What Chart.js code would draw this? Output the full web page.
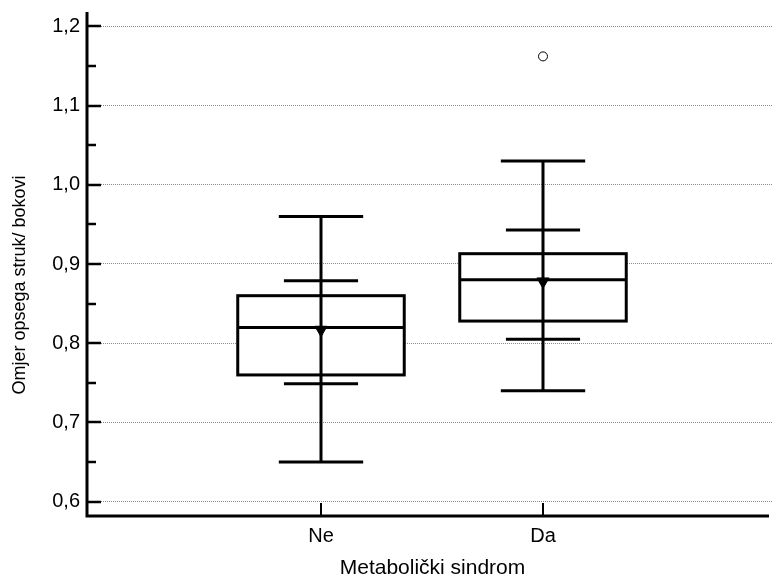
<!DOCTYPE html>
<html>
<head>
<meta charset="utf-8">
<script src="https://cdn.jsdelivr.net/npm/chart.js@4/dist/chart.umd.min.js"></script>
<style>
  html, body { margin: 0; padding: 0; background: #fff; overflow: hidden; }
  #wrap { width: 772px; height: 577px; position: relative; }
</style>
</head>
<body>
<div id="wrap"><canvas id="chart"></canvas></div>
<script>
// categories on the x axis (placed at 1 and 2)
const categories = ['Ne', 'Da'];
const catPositions = [1, 2];

// box plot statistics
const whiskerLow = [0.65, 0.74];
const quartile1 = [0.76, 0.828];
const medians = [0.82, 0.88];
const quartile3 = [0.86, 0.913];
const whiskerHigh = [0.96, 1.03];
// inner bars (confidence interval markers)
const innerLow = [0.749, 0.805];
const innerHigh = [0.879, 0.943];
const means = [0.817, 0.878];

// outliers: [category position, value]
const outlierX = [2];
const outlierY = [1.162];

// y axis ticks
const yTickValues = [0.6, 0.65, 0.7, 0.75, 0.8, 0.85, 0.9, 0.95, 1.0, 1.05, 1.1, 1.15, 1.2];
const yTickLabels = ['0,6', '', '0,7', '', '0,8', '', '0,9', '', '1,0', '', '1,1', '', '1,2'];

const xTitle = 'Metabolički sindrom';
const yTitle = 'Omjer opsega struk/ bokovi';

const FONT = "'Liberation Sans', Arial, sans-serif";
const BOX_HALF = 0.375;
const CAP_HALF = 0.19;
const INNER_HALF = 0.167;

const boxPlugin = {
  id: 'boxPlugin',
  beforeDatasetsDraw(chart) {
    const { ctx, scales: { x, y } } = chart;
    ctx.save();
    ctx.strokeStyle = '#000';
    ctx.lineWidth = 3;
    ctx.lineCap = 'butt';
    const hline = (cx, half, v) => {
      ctx.beginPath();
      ctx.moveTo(x.getPixelForValue(cx - half), y.getPixelForValue(v));
      ctx.lineTo(x.getPixelForValue(cx + half), y.getPixelForValue(v));
      ctx.stroke();
    };
    catPositions.forEach((cx, i) => {
      const l = x.getPixelForValue(cx - BOX_HALF);
      const r = x.getPixelForValue(cx + BOX_HALF);
      const t = y.getPixelForValue(quartile3[i]);
      const b = y.getPixelForValue(quartile1[i]);
      ctx.fillStyle = '#fff';
      ctx.fillRect(l, t, r - l, b - t);
      ctx.strokeRect(l, t, r - l, b - t);
      hline(cx, BOX_HALF, medians[i]);
      // whisker stem
      ctx.beginPath();
      ctx.moveTo(x.getPixelForValue(cx), y.getPixelForValue(whiskerLow[i]));
      ctx.lineTo(x.getPixelForValue(cx), y.getPixelForValue(whiskerHigh[i]));
      ctx.stroke();
      hline(cx, CAP_HALF, whiskerLow[i]);
      hline(cx, CAP_HALF, whiskerHigh[i]);
      hline(cx, INNER_HALF, innerLow[i]);
      hline(cx, INNER_HALF, innerHigh[i]);
    });
    ctx.restore();
  },
  afterDraw(chart) {
    const { ctx, scales: { x, y }, chartArea } = chart;
    ctx.save();
    ctx.strokeStyle = '#000';
    ctx.lineWidth = 3;
    // axis lines
    ctx.beginPath();
    ctx.moveTo(chartArea.left, chartArea.top);
    ctx.lineTo(chartArea.left, chartArea.bottom);
    ctx.lineTo(chartArea.right - 3, chartArea.bottom);
    ctx.stroke();
    // inward ticks
    ctx.lineWidth = 2.5;
    yTickValues.forEach((v, i) => {
      const py = Math.round(y.getPixelForValue(v));
      const len = yTickLabels[i] ? 14 : 9;
      ctx.beginPath();
      ctx.moveTo(chartArea.left, py);
      ctx.lineTo(chartArea.left + len, py);
      ctx.stroke();
    });
    ctx.lineWidth = 2;
    catPositions.forEach(cx => {
      const px = Math.round(x.getPixelForValue(cx));
      ctx.beginPath();
      ctx.moveTo(px, chartArea.bottom);
      ctx.lineTo(px, chartArea.bottom - 13);
      ctx.stroke();
    });
    // axis titles
    ctx.fillStyle = '#000';
    ctx.font = '21px ' + FONT;
    ctx.textAlign = 'center';
    ctx.textBaseline = 'alphabetic';
    ctx.fillText(xTitle, (chartArea.left + chartArea.right) / 2 + 3, 574);
    ctx.translate(25, 285);
    ctx.rotate(-Math.PI / 2);
    ctx.font = '18px ' + FONT;
    ctx.fillText(yTitle, 0, 0);
    ctx.restore();
  }
};

new Chart(document.getElementById('chart'), {
  type: 'scatter',
  data: {
    datasets: [
      {
        label: 'Mean',
        data: catPositions.map((cx, i) => ({ x: cx, y: means[i] })),
        pointStyle: 'triangle',
        rotation: 180,
        pointRadius: 7,
        backgroundColor: '#000',
        borderColor: '#000',
        borderWidth: 1
      },
      {
        label: 'Outliers',
        data: outlierX.map((cx, i) => ({ x: cx, y: outlierY[i] })),
        pointStyle: 'circle',
        pointRadius: 4.5,
        backgroundColor: '#fff',
        borderColor: '#000',
        borderWidth: 1
      }
    ]
  },
  options: {
    responsive: true,
    maintainAspectRatio: false,
    animation: false,
    events: [],
    layout: { autoPadding: false, padding: { top: 12, right: 0, left: 0, bottom: 0 } },
    plugins: { legend: { display: false }, tooltip: { enabled: false } },
    scales: {
      x: {
        type: 'linear',
        min: -0.054,
        max: 3.0315,
        afterFit: s => { s.height = 61; s.paddingLeft = 0; s.paddingRight = 0; },
        afterBuildTicks: s => { s.ticks = catPositions.map(v => ({ value: v })); },
        grid: { display: false, drawTicks: false },
        border: { display: false },
        ticks: {
          padding: 8,
          color: '#000',
          font: { family: FONT, size: 20 },
          callback: (v) => categories[catPositions.indexOf(v)]
        }
      },
      y: {
        min: 0.582,
        max: 1.218,
        afterFit: s => { s.width = 87; s.paddingTop = 0; s.paddingBottom = 0; },
        afterBuildTicks: s => { s.ticks = yTickValues.map(v => ({ value: v })); },
        grid: {
          drawTicks: false,
          lineWidth: 1,
          color: c => (c.tick && yTickLabels[c.index]) ? '#8a8a8a' : 'rgba(0,0,0,0)'
        },
        border: { display: false, dash: [1, 1] },
        ticks: {
          padding: 7,
          color: '#000',
          font: { family: FONT, size: 20 },
          callback: (v, i) => yTickLabels[i]
        }
      }
    }
  },
  plugins: [boxPlugin]
});
</script>
</body>
</html>
